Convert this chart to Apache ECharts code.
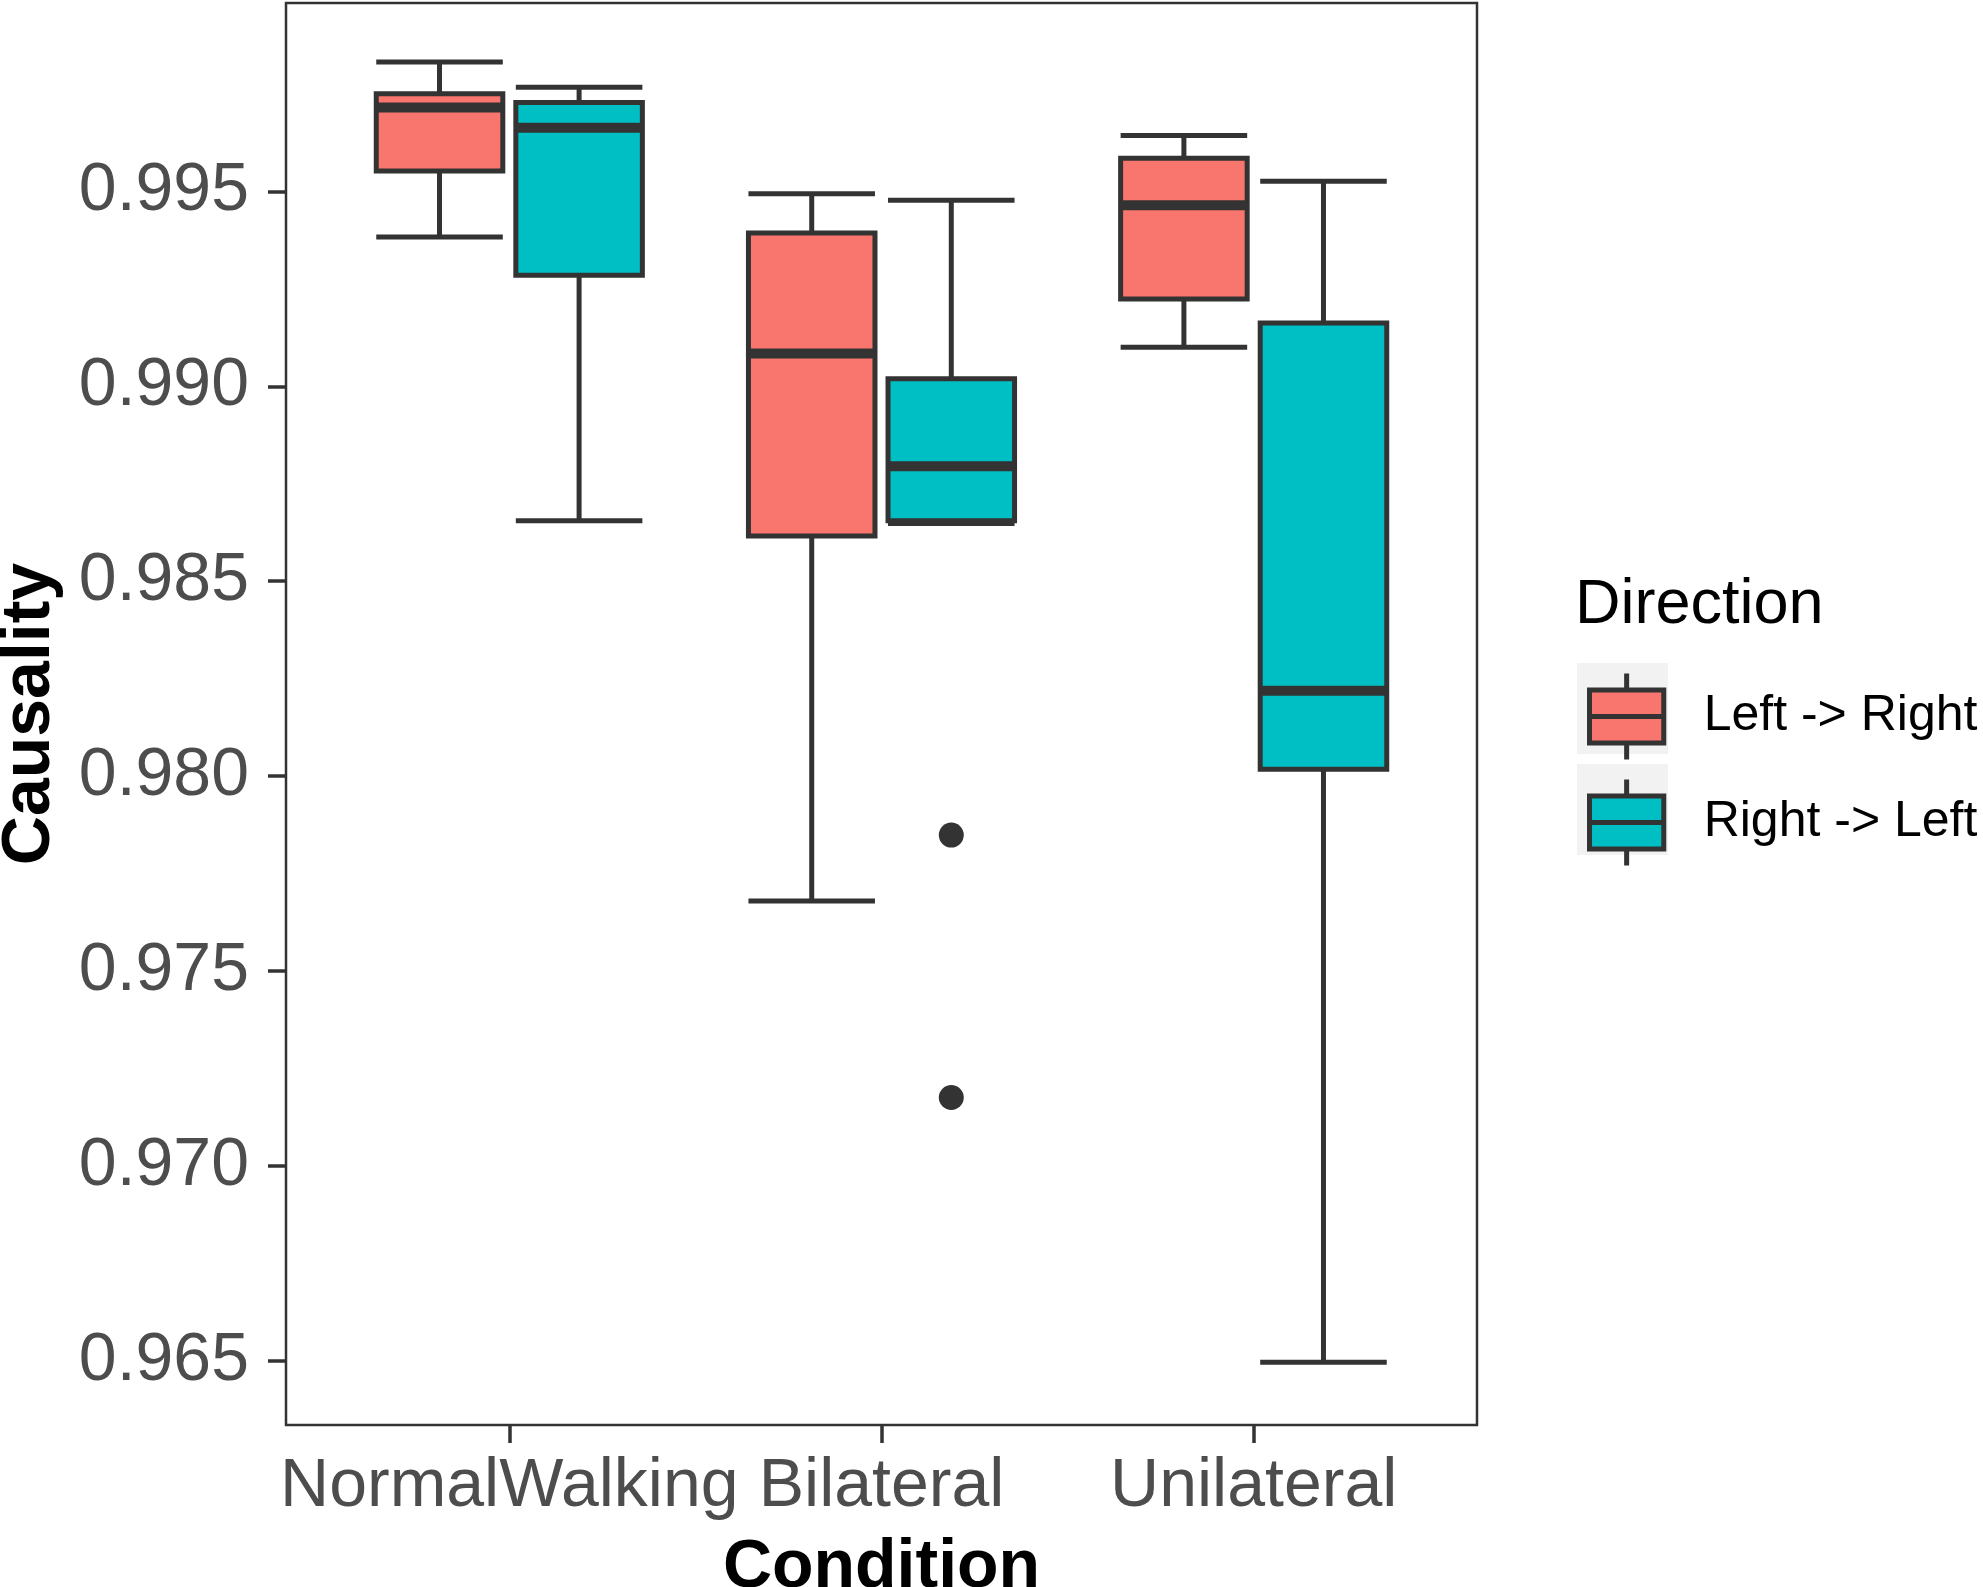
<!DOCTYPE html>
<html>
<head>
<meta charset="utf-8">
<script src="https://cdn.jsdelivr.net/npm/echarts@6/dist/echarts.min.js"></script>
<style>
  html, body { margin: 0; padding: 0; background: #fff; }
  #chart { width: 1983px; height: 1587px; }
</style>
</head>
<body>
<div id="chart"></div>
<script>
var categories = ['NormalWalking', 'Bilateral', 'Unilateral'];
var directions = ['Left -> Right', 'Right -> Left'];
var colors = ['#F8766D', '#00BFC4'];

// per condition: [lower whisker, Q1, median, Q3, upper whisker]
var leftToRight = [
  [0.99383, 0.99552, 0.99715, 0.99750, 0.99832],
  [0.97680, 0.98616, 0.99084, 0.99393, 0.99494],
  [0.99100, 0.99224, 0.99464, 0.99585, 0.99643]
];
var rightToLeft = [
  [0.98655, 0.99285, 0.99663, 0.99728, 0.99767],
  [0.98648, 0.98655, 0.98795, 0.99019, 0.99477],
  [0.96497, 0.98018, 0.98219, 0.99162, 0.99526]
];

// outliers: [condition index, value]
var outliersRightToLeft = [[1, 0.97849], [1, 0.97176]];

var yTicks = [0.965, 0.970, 0.975, 0.980, 0.985, 0.990, 0.995];
var yMin = 0.96336, yMax = 0.99983;

var dodge = 0.1875;   // half of dodge width, in category units
var halfBox = 0.17;

function boxItems(stats) {
  return stats.map(function (s, i) { return [i + 1].concat(s); });
}

function makeRender(offset, color) {
  return function (params, api) {
    var x = api.value(0) + offset;
    var lo = api.coord([x - halfBox, api.value(1)]);
    var hi = api.coord([x + halfBox, api.value(5)]);
    var q1 = api.coord([x, api.value(2)]);
    var med = api.coord([x, api.value(3)]);
    var q3 = api.coord([x, api.value(4)]);
    var left = lo[0], right = hi[0], cx = q1[0];
    var stroke = { stroke: '#333333', lineWidth: 5 };
    return {
      type: 'group',
      children: [
        { type: 'line', shape: { x1: cx, y1: hi[1], x2: cx, y2: q3[1] }, style: stroke },
        { type: 'line', shape: { x1: cx, y1: q1[1], x2: cx, y2: lo[1] }, style: stroke },
        { type: 'line', shape: { x1: left, y1: hi[1], x2: right, y2: hi[1] }, style: stroke },
        { type: 'line', shape: { x1: left, y1: lo[1], x2: right, y2: lo[1] }, style: stroke },
        { type: 'rect', shape: { x: left, y: q3[1], width: right - left, height: q1[1] - q3[1] },
          style: { fill: color, stroke: '#333333', lineWidth: 5 } },
        { type: 'line', shape: { x1: left, y1: med[1], x2: right, y2: med[1] },
          style: { stroke: '#333333', lineWidth: 10 } }
      ]
    };
  };
}

var chart = echarts.init(document.getElementById('chart'), null, { renderer: 'canvas' });

var iconPath = 'path://M38,0 L38,17 M0,17 L76,17 L76,71 L0,71 Z M0,44 L76,44 M38,71 L38,88';

var option = {
  backgroundColor: '#ffffff',
  animation: false,
  textStyle: { fontFamily: 'Liberation Sans, Arial, sans-serif' },
  grid: {
    left: 286, right: 506, top: 3, bottom: 162,
    outerBoundsMode: 'none',
    containLabel: false,
    show: true, borderColor: '#333333', borderWidth: 2.5, backgroundColor: 'transparent'
  },
  legend: {
    orient: 'vertical',
    left: 1582, top: 666,
    itemWidth: 76, itemHeight: 86, itemGap: 15,
    data: directions.map(function (d) { return { name: d, icon: iconPath }; }),
    itemStyle: { borderColor: '#333333', borderWidth: 5 },
    textStyle: { fontSize: 50, color: '#000000', padding: [0, 0, 0, 34], fontFamily: 'Liberation Sans, Arial, sans-serif' }
  },
  graphic: [
    { type: 'text', left: 1575, top: 574, style: { text: 'Direction', fontSize: 63, fill: '#000000', fontFamily: 'Liberation Sans, Arial, sans-serif' } },
    { type: 'rect', left: 1577, top: 663, z: -1, shape: { width: 91, height: 91 }, style: { fill: '#F2F2F2' } },
    { type: 'rect', left: 1577, top: 764, z: -1, shape: { width: 91, height: 91 }, style: { fill: '#F2F2F2' } }
  ],
  xAxis: {
    type: 'value',
    min: 0.4, max: 3.6,
    name: 'Condition',
    nameLocation: 'middle',
    nameGap: 109,
    nameTextStyle: { fontSize: 68, fontWeight: 'bold', color: '#000000' },
    axisLine: { show: false },
    splitLine: { show: false },
    axisTick: { show: true, length: 18, customValues: [1, 2, 3], lineStyle: { color: '#333333', width: 3.5 } },
    axisLabel: {
      customValues: [1, 2, 3],
      margin: 28, fontSize: 68, color: '#4D4D4D',
      formatter: function (v) { return categories[Math.round(v) - 1]; }
    }
  },
  yAxis: {
    type: 'value',
    min: yMin, max: yMax,
    name: 'Causality',
    nameLocation: 'middle',
    nameRotate: 90,
    nameGap: 222,
    nameTextStyle: { fontSize: 68, fontWeight: 'bold', color: '#000000' },
    axisLine: { show: false },
    splitLine: { show: false },
    axisTick: { show: true, length: 18, customValues: yTicks, lineStyle: { color: '#333333', width: 3.5 } },
    axisLabel: {
      customValues: yTicks,
      margin: 37, fontSize: 68, color: '#4D4D4D',
      formatter: function (v) { return v.toFixed(3); }
    }
  },
  series: [
    {
      name: directions[0], type: 'custom', color: colors[0],
      renderItem: makeRender(-dodge, colors[0]),
      encode: { x: 0, y: [1, 2, 3, 4, 5] },
      data: boxItems(leftToRight)
    },
    {
      name: directions[1], type: 'custom', color: colors[1],
      renderItem: makeRender(dodge, colors[1]),
      encode: { x: 0, y: [1, 2, 3, 4, 5] },
      data: boxItems(rightToLeft)
    },
    {
      name: 'outliers', type: 'scatter',
      symbolSize: 25,
      itemStyle: { color: '#333333', opacity: 1 },
      data: outliersRightToLeft.map(function (o) { return [o[0] + 1 + dodge, o[1]]; })
    }
  ]
};

chart.setOption(option);
</script>
</body>
</html>
